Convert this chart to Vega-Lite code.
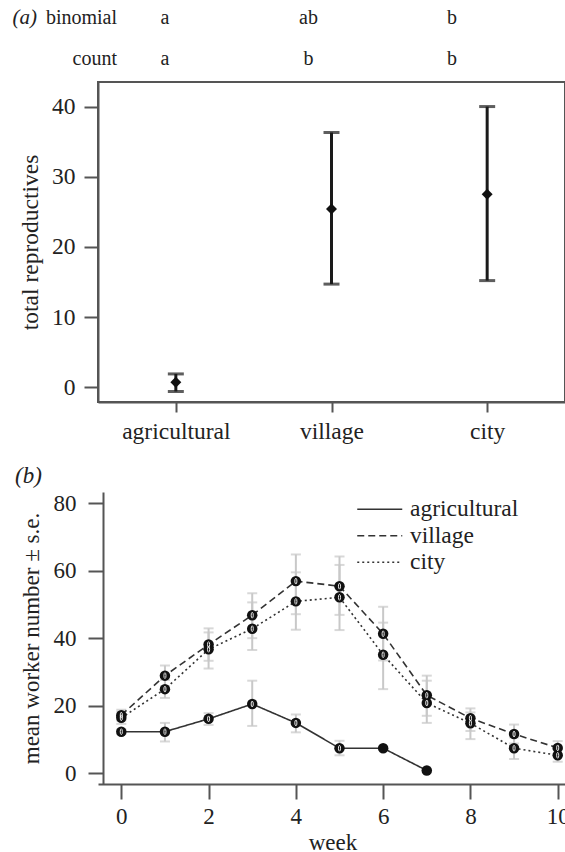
{
  "$schema": "https://vega.github.io/schema/vega-lite/v6.json",
  "padding": {"left": 11, "top": 6, "right": 0, "bottom": 0},
  "background": "white",
  "spacing": 21,
  "resolve": {"legend": {"strokeDash": "independent"}},
  "config": {
    "font": "'Liberation Serif', 'Times New Roman', Times, 'DejaVu Serif', serif",
    "axis": {
      "labelFont": "'Liberation Serif', 'Times New Roman', Times, 'DejaVu Serif', serif",
      "titleFont": "'Liberation Serif', 'Times New Roman', Times, 'DejaVu Serif', serif",
      "labelFontSize": 23,
      "titleFontSize": 23,
      "titleFontWeight": "normal",
      "labelColor": "#222222",
      "titleColor": "#222222",
      "domainColor": "#555555",
      "domainWidth": 2,
      "tickColor": "#555555",
      "tickWidth": 2,
      "grid": false
    },
    "legend": {
      "labelFont": "'Liberation Serif', 'Times New Roman', Times, 'DejaVu Serif', serif"
    },
    "title": {
      "font": "'Liberation Serif', 'Times New Roman', Times, 'DejaVu Serif', serif"
    },
    "text": {"font": "'Liberation Serif', 'Times New Roman', Times, 'DejaVu Serif', serif", "color": "#222222"}
  },
  "datasets": {
    "reproductives": [
      {"site": "agricultural", "mean": 0.7, "lo": -0.6, "hi": 1.9},
      {"site": "village", "mean": 25.4, "lo": 14.7, "hi": 36.3},
      {"site": "city", "mean": 27.5, "lo": 15.2, "hi": 40.0}
    ],
    "letters": [
      {"row": "binomial", "site": "agricultural", "letter": "a"},
      {"row": "binomial", "site": "village", "letter": "ab"},
      {"row": "binomial", "site": "city", "letter": "b"},
      {"row": "count", "site": "agricultural", "letter": "a"},
      {"row": "count", "site": "village", "letter": "b"},
      {"row": "count", "site": "city", "letter": "b"}
    ],
    "workers": [
      {"site": "agricultural", "week": 0, "mean": 12.3, "lo": 11.6, "hi": 13.0},
      {"site": "agricultural", "week": 1, "mean": 12.3, "lo": 9.4, "hi": 14.9},
      {"site": "agricultural", "week": 2, "mean": 16.1, "lo": 14.3, "hi": 17.8},
      {"site": "agricultural", "week": 3, "mean": 20.5, "lo": 14.0, "hi": 27.4},
      {"site": "agricultural", "week": 4, "mean": 14.9, "lo": 12.1, "hi": 17.4},
      {"site": "agricultural", "week": 5, "mean": 7.4, "lo": 5.3, "hi": 9.6},
      {"site": "agricultural", "week": 6, "mean": 7.4, "lo": 6.9, "hi": 7.9},
      {"site": "agricultural", "week": 7, "mean": 0.8, "lo": 0.8, "hi": 0.8},
      {"site": "village", "week": 0, "mean": 17.2, "lo": 15.6, "hi": 18.8},
      {"site": "village", "week": 1, "mean": 28.9, "lo": 25.8, "hi": 31.9},
      {"site": "village", "week": 2, "mean": 38.1, "lo": 33.3, "hi": 42.9},
      {"site": "village", "week": 3, "mean": 46.8, "lo": 40.0, "hi": 53.3},
      {"site": "village", "week": 4, "mean": 56.9, "lo": 47.1, "hi": 64.8},
      {"site": "village", "week": 5, "mean": 55.4, "lo": 46.9, "hi": 64.2},
      {"site": "village", "week": 6, "mean": 41.3, "lo": 33.4, "hi": 49.3},
      {"site": "village", "week": 7, "mean": 23.1, "lo": 17.0, "hi": 28.9},
      {"site": "village", "week": 8, "mean": 16.3, "lo": 12.5, "hi": 19.2},
      {"site": "village", "week": 9, "mean": 11.6, "lo": 8.8, "hi": 14.4},
      {"site": "village", "week": 10, "mean": 7.5, "lo": 5.5, "hi": 9.5},
      {"site": "city", "week": 0, "mean": 16.4, "lo": 14.6, "hi": 18.2},
      {"site": "city", "week": 1, "mean": 24.9, "lo": 22.3, "hi": 27.6},
      {"site": "city", "week": 2, "mean": 36.7, "lo": 31.0, "hi": 41.7},
      {"site": "city", "week": 3, "mean": 42.8, "lo": 36.5, "hi": 50.6},
      {"site": "city", "week": 4, "mean": 50.9, "lo": 42.5, "hi": 59.5},
      {"site": "city", "week": 5, "mean": 52.1, "lo": 42.4, "hi": 61.7},
      {"site": "city", "week": 6, "mean": 35.1, "lo": 24.9, "hi": 44.6},
      {"site": "city", "week": 7, "mean": 20.8, "lo": 14.9, "hi": 27.4},
      {"site": "city", "week": 8, "mean": 14.8, "lo": 10.1, "hi": 18.0},
      {"site": "city", "week": 9, "mean": 7.4, "lo": 4.2, "hi": 10.6},
      {"site": "city", "week": 10, "mean": 5.3, "lo": 3.4, "hi": 7.2}
    ]
  },
  "vconcat": [
    {
      "width": 467,
      "height": 320,
      "view": {"stroke": "#555555", "strokeWidth": 2},
      "layer": [
        {
          "data": {"name": "reproductives"},
          "encoding": {
            "x": {
              "field": "site",
              "type": "nominal",
              "sort": ["agricultural", "village", "city"],
              "scale": {"type": "point", "padding": 0.5},
              "axis": {"title": null, "labelAngle": 0, "tickSize": 10, "labelPadding": 7, "labelFontSize": 23.5}
            }
          },
          "layer": [
            {
              "mark": {"type": "errorbar", "color": "#1a1a1a", "thickness": 3, "ticks": {"size": 16, "thickness": 3}},
              "encoding": {
                "y": {
                  "field": "lo",
                  "type": "quantitative",
                  "scale": {"domain": [-2.1, 43.5], "nice": false, "zero": false},
                  "axis": {"title": "total reproductives", "values": [0, 10, 20, 30, 40], "tickSize": 14, "labelPadding": 9, "titlePadding": 9, "labelFontSize": 23.5, "titleFontSize": 23.5}
                },
                "y2": {"field": "hi"}
              }
            },
            {
              "mark": {"type": "point", "shape": "diamond", "filled": true, "size": 120, "color": "#111111", "opacity": 1},
              "encoding": {
                "y": {"field": "mean", "type": "quantitative"}
              }
            }
          ]
        },
        {
          "data": {"name": "letters"},
          "encoding": {
            "x": {
              "field": "site",
              "type": "nominal",
              "sort": ["agricultural", "village", "city"],
              "scale": {"type": "point", "range": [67, 354], "padding": 0},
              "axis": null
            },
            "y": {
              "field": "row",
              "type": "nominal",
              "sort": ["binomial", "count"],
              "scale": {"type": "point", "range": [-64, -23], "padding": 0},
              "axis": null
            }
          },
          "layer": [
            {
              "mark": {"type": "text", "fontSize": 20, "align": "center", "baseline": "middle"},
              "encoding": {"text": {"field": "letter"}}
            },
            {
              "transform": [{"filter": "datum.site === 'agricultural'"}],
              "mark": {"type": "text", "fontSize": 20, "align": "right", "baseline": "middle", "dx": -48},
              "encoding": {"text": {"field": "row"}}
            },
            {
              "transform": [{"filter": "datum.site === 'agricultural' && datum.row === 'binomial'"}],
              "mark": {"type": "text", "fontSize": 21, "fontStyle": "italic", "align": "right", "baseline": "middle", "dx": -128},
              "encoding": {"text": {"value": "(a)"}}
            }
          ]
        }
      ],
      "resolve": {"scale": {"x": "independent", "y": "independent"}}
    },
    {
      "width": 469,
      "height": 292,
      "view": {"stroke": null},
      "title": {"text": "(b)", "anchor": "start", "frame": "group", "dx": -83, "fontStyle": "italic", "fontSize": 23, "fontWeight": "normal", "color": "#222222"},
      "data": {"name": "workers"},
      "encoding": {
        "x": {
          "field": "week",
          "type": "quantitative",
          "scale": {"domain": [-0.534, 10.213], "nice": false, "zero": false},
          "axis": {"title": "week", "values": [0, 2, 4, 6, 8, 10], "tickSize": 15, "labelPadding": 6, "titlePadding": 3, "labelFlush": false}
        }
      },
      "layer": [
        {
          "mark": {"type": "errorbar", "color": "#c8c8c8", "thickness": 2, "ticks": {"size": 10, "thickness": 2}},
          "encoding": {
            "y": {
              "field": "lo",
              "type": "quantitative",
              "scale": {"domain": [-3.2, 83.3], "nice": false, "zero": false},
              "axis": {"title": "mean worker number ± s.e.", "values": [0, 20, 40, 60, 80], "tickSize": 15, "labelPadding": 12, "titlePadding": 10, "offset": -5}
            },
            "y2": {"field": "hi"}
          }
        },
        {
          "mark": {"type": "line", "color": "#333333", "strokeWidth": 1.6},
          "encoding": {
            "y": {"field": "mean", "type": "quantitative"},
            "strokeDash": {
              "field": "site",
              "type": "nominal",
              "scale": {"domain": ["agricultural", "village", "city"], "range": [[1, 0], [7, 4], [2, 3]]},
              "legend": {
                "title": null,
                "orient": "none",
                "legendX": 270,
                "legendY": 5.5,
                "padding": 0,
                "symbolType": "M-2.5,0H2.5",
                "symbolSize": 324,
                "symbolStrokeWidth": 1.6,
                "symbolStrokeColor": "#333333",
                "symbolFillColor": "transparent",
                "labelFontSize": 23.5,
                "labelColor": "#222222",
                "labelOffset": 18.5,
                "rowPadding": 1.5
              }
            }
          }
        },
        {
          "mark": {"type": "circle", "size": 110, "color": "#111111", "opacity": 1},
          "encoding": {
            "y": {"field": "mean", "type": "quantitative"}
          }
        },
        {
          "transform": [{"filter": "!(datum.site === 'agricultural' && datum.week >= 6)"}],
          "mark": {"type": "point", "shape": "M0,-0.62C0.3,-0.62 0.3,0.62 0,0.62C-0.3,0.62 -0.3,-0.62 0,-0.62Z", "size": 90, "filled": false, "stroke": "#ffffff", "strokeWidth": 1, "opacity": 0.9},
          "encoding": {
            "y": {"field": "mean", "type": "quantitative"}
          }
        }
      ]
    }
  ]
}
